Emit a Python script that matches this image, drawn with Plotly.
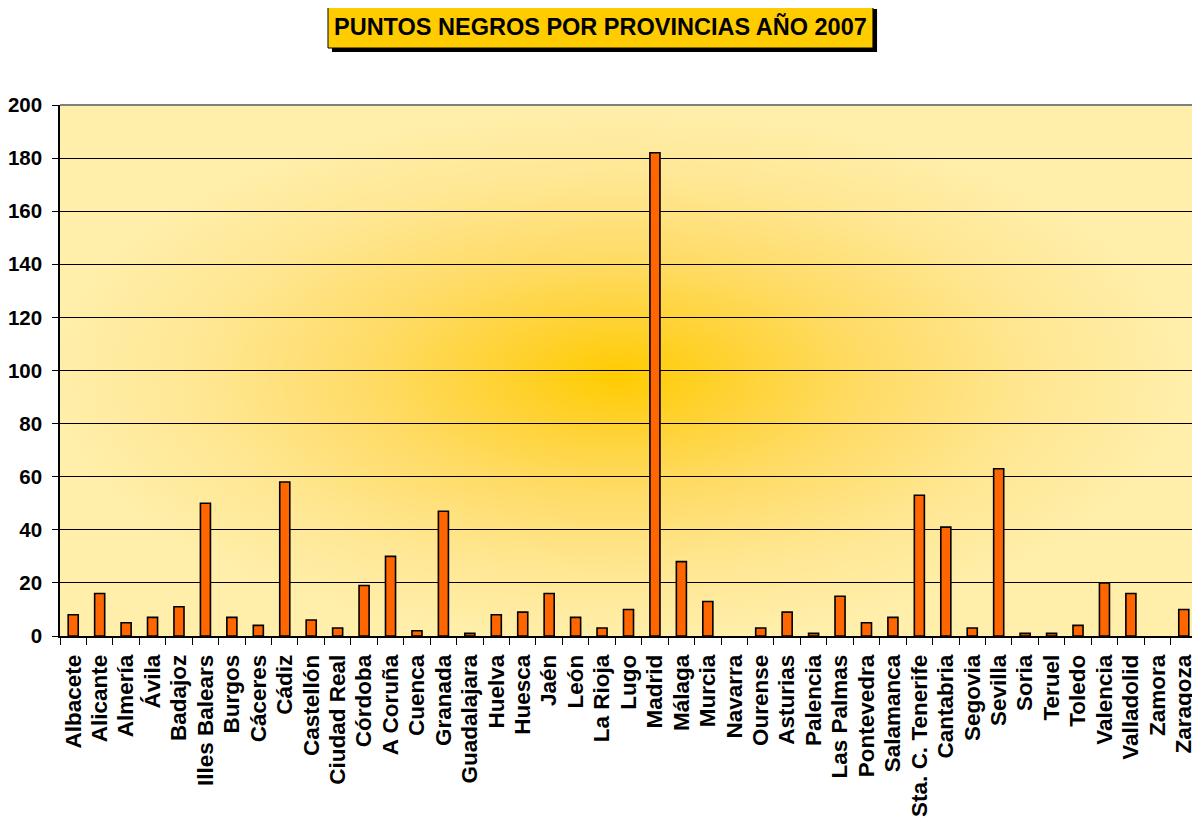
import base64
import plotly.graph_objects as go

provincias = ["Albacete", "Alicante", "Almería", "Ávila", "Badajoz", "Illes Balears", "Burgos",
              "Cáceres", "Cádiz", "Castellón", "Ciudad Real", "Córdoba", "A Coruña", "Cuenca",
              "Granada", "Guadalajara", "Huelva", "Huesca", "Jaén", "León", "La Rioja", "Lugo",
              "Madrid", "Málaga", "Murcia", "Navarra", "Ourense", "Asturias", "Palencia",
              "Las Palmas", "Pontevedra", "Salamanca", "Sta. C. Tenerife", "Cantabria", "Segovia",
              "Sevilla", "Soria", "Teruel", "Toledo", "Valencia", "Valladolid", "Zamora", "Zaragoza"]
puntos_negros = [8, 16, 5, 7, 11, 50, 7, 4, 58, 6, 3, 19, 30, 2, 47, 1, 8, 9, 16, 7, 3, 10,
                 182, 28, 13, 0, 3, 9, 1, 15, 5, 7, 53, 41, 3, 63, 1, 1, 4, 20, 16, 0, 10]
y_ticks = [0, 20, 40, 60, 80, 100, 120, 140, 160, 180, 200]
titulo = "PUNTOS NEGROS POR PROVINCIAS AÑO 2007"

svg = ('<svg xmlns="http://www.w3.org/2000/svg" width="1137" height="531" viewBox="0 0 1137 531" '
       'preserveAspectRatio="none"><defs><radialGradient id="g" cx="0.49" cy="0.51" r="0.5">'
       '<stop offset="0" stop-color="#FFCC00"/>'
       '<stop offset="0.2" stop-color="#FFD232"/>'
       '<stop offset="0.45" stop-color="#FFDC68"/>'
       '<stop offset="0.75" stop-color="#FFE794"/>'
       '<stop offset="1" stop-color="#FFEFAA"/></radialGradient></defs>'
       '<rect x="0" y="0" width="1137" height="531" fill="url(#g)"/></svg>')
bg_uri = "data:image/svg+xml;base64," + base64.b64encode(svg.encode()).decode()

# no outline on empty (zero) bars, as in the original
outline_widths = [1.6 if v > 0 else 0 for v in puntos_negros]

fig = go.Figure()
fig.add_trace(go.Bar(
    x=provincias, y=puntos_negros,
    marker=dict(color="#FF6600", line=dict(color="black", width=outline_widths)),
))

font_family = "Liberation Sans, Arial, sans-serif"

fig.update_layout(
    width=1192, height=815,
    margin=dict(l=52, r=3, t=97, b=187, autoexpand=False),
    paper_bgcolor="white",
    plot_bgcolor="#FFEFAA",
    bargap=0.62,
    showlegend=False,
    font=dict(family=font_family, color="black"),
    xaxis=dict(
        type="category",
        tickmode="array", tickvals=provincias, ticktext=provincias,
        tickangle=-90,
        tickfont=dict(size=22.5, family=font_family, weight="bold"),
        ticks="outside", tickson="boundaries", ticklen=7, tickcolor="black", tickwidth=1,
        showline=True, linecolor="black", linewidth=1.5,
        showgrid=False,
        ticklabelstandoff=8,
        automargin=False,
    ),
    yaxis=dict(
        range=[0, 200],
        tickvals=y_ticks,
        tickfont=dict(size=20.5, family=font_family, weight="bold"),
        ticks="outside", ticklen=6, tickcolor="black", tickwidth=1,
        showline=True, linecolor="black", linewidth=1.5,
        showgrid=True, gridcolor="black", gridwidth=1,
        zeroline=False,
        ticklabelstandoff=6,
        automargin=False,
    ),
    images=[dict(source=bg_uri, xref="x domain", yref="y domain", x=0, y=1,
                 sizex=1, sizey=1, sizing="stretch", xanchor="left", yanchor="top",
                 layer="below")],
    shapes=[
        # plot area border (top and right)
        dict(type="line", xref="paper", yref="paper", x0=0, x1=1, y0=1, y1=1,
             line=dict(color="#808080", width=2)),
        dict(type="line", xref="paper", yref="paper", x0=1, x1=1, y0=0, y1=1,
             line=dict(color="#808080", width=2)),
        # title shadow
        dict(type="rect", xref="paper", yref="paper", x0=0.2392, x1=0.7186, y0=1.0998, y1=1.1808,
             fillcolor="black", line=dict(width=0)),
        # title box
        dict(type="rect", xref="paper", yref="paper", x0=0.2357, x1=0.7150, y0=1.1073, y1=1.1883,
             fillcolor="#FFCC00", line=dict(color="black", width=1)),
    ],
    annotations=[dict(text=titulo, xref="paper", yref="paper", x=0.4754, y=1.1478,
                      showarrow=False, xanchor="center", yanchor="middle",
                      font=dict(size=23.5, family=font_family, weight="bold", color="black"))],
)

fig.write_html("out.html")
